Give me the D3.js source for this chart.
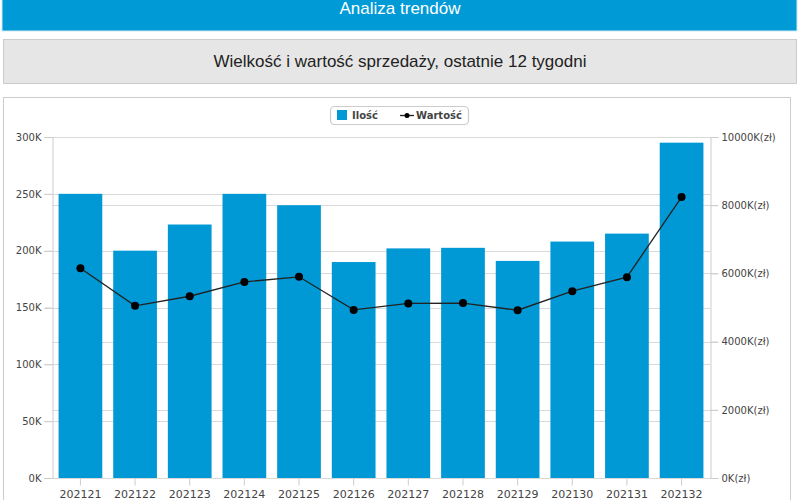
<!DOCTYPE html>
<html><head><meta charset="utf-8">
<script src="https://cdn.jsdelivr.net/npm/d3@7/dist/d3.min.js"></script>
<style>
body{margin:0;background:#fff;font-family:"Liberation Sans",Arial,sans-serif;}
</style></head>
<body><svg id="c" width="800" height="500"></svg>
<script>
const categories = ["202121","202122","202123","202124","202125","202126","202127","202128","202129","202130","202131","202132"];
const quantity = [250000,200000,223000,250000,240000,190000,202000,202500,191000,208000,215000,295000];
const value = [6150000,5050000,5330000,5750000,5900000,4930000,5120000,5130000,4920000,5480000,5890000,8240000];
const leftTicks = [0,50000,100000,150000,200000,250000,300000];
const rightTicks = [0,2000000,4000000,6000000,8000000,10000000];
const titleText = "Analiza trendów";
const subtitleText = "Wielkość i wartość sprzedaży, ostatnie 12 tygodni";
const legendLabels = ["Ilość","Wartość"];

const svg = d3.select("#c");
const blue = "#0099d5";

// header banner
svg.append("rect").attr("x",2).attr("y",-10).attr("width",795).attr("height",41).attr("fill","#009ad6").attr("stroke","#cfe9f5");
svg.append("text").attr("x",400).attr("y",14).attr("text-anchor","middle").attr("fill","#fff")
  .style("font-size","17px").style("font-family","'Liberation Sans',Arial").text(titleText);
// subtitle box
svg.append("rect").attr("x",3.5).attr("y",39.5).attr("width",793).attr("height",44).attr("fill","#e6e6e6").attr("stroke","#cccccc");
svg.append("text").attr("x",400).attr("y",67).attr("text-anchor","middle").attr("fill","#222")
  .style("font-size","17px").text(subtitleText);
// chart panel
svg.append("rect").attr("x",3.5).attr("y",97.5).attr("width",787).attr("height",420).attr("fill","#fff").attr("stroke","#cccccc");

const m = {l:52, r:710, t:137, b:478};
const x = d3.scaleBand().domain(categories).range([m.l, m.r]).paddingInner(0.2).paddingOuter(0.12);
const yL = d3.scaleLinear().domain([0,300000]).range([m.b, m.t]);
const yR = d3.scaleLinear().domain([0,10000000]).range([m.b, m.t]);

// gridlines
const g = svg.append("g");
g.selectAll("line.gl").data(leftTicks).enter().append("line")
  .attr("x1",m.l-8).attr("x2",m.r).attr("y1",d=>Math.round(yL(d))+0.5).attr("y2",d=>Math.round(yL(d))+0.5)
  .attr("stroke","#d9d9d9");
g.selectAll("line.gr").data(rightTicks).enter().append("line")
  .attr("x1",m.l).attr("x2",m.r+8).attr("y1",d=>Math.round(yR(d))+0.5).attr("y2",d=>Math.round(yR(d))+0.5)
  .attr("stroke","#d9d9d9");

// bars
svg.selectAll("rect.bar").data(categories).enter().append("rect")
  .attr("x",d=>x(d)).attr("width",x.bandwidth())
  .attr("y",(d,i)=>yL(quantity[i])).attr("height",(d,i)=>m.b-yL(quantity[i]))
  .attr("fill",blue);

// axes
const fmtL = d=>(d/1000)+"K";
const fmtR = d=>(d/1000)+"K(zł)";
const axL = svg.append("g").attr("transform",`translate(${m.l+0.5},0)`)
  .call(d3.axisLeft(yL).tickValues(leftTicks).tickFormat(fmtL).tickSize(8).tickPadding(3));
const axR = svg.append("g").attr("transform",`translate(${m.r+0.5},0)`)
  .call(d3.axisRight(yR).tickValues(rightTicks).tickFormat(fmtR).tickSize(8).tickPadding(3));
const axB = svg.append("g").attr("transform",`translate(0,${m.b+0.5})`)
  .call(d3.axisBottom(x).tickSize(7).tickPadding(5));
[axL,axR,axB].forEach(a=>{
  a.selectAll("path.domain").attr("stroke","#cccccc");
  a.selectAll(".tick line").attr("stroke","#cccccc");
  a.selectAll("text").attr("fill","#444").style("font-family","'DejaVu Sans',sans-serif").style("font-size","10px");
});
axB.select("path.domain").remove();
axB.selectAll("text").style("font-size","11px");

// line
const cx = d=>x(d)+x.bandwidth()/2;
svg.append("path").datum(categories)
  .attr("d",d3.line().x(d=>cx(d)).y((d,i)=>yR(value[i])))
  .attr("fill","none").attr("stroke","#222").attr("stroke-width",1.3);
svg.selectAll("circle.pt").data(categories).enter().append("circle")
  .attr("cx",d=>cx(d)).attr("cy",(d,i)=>yR(value[i])).attr("r",4).attr("fill","#000");

// legend
const lg = svg.append("g");
lg.append("rect").attr("x",330.5).attr("y",106.5).attr("width",138).attr("height",18).attr("rx",4)
  .attr("fill","#fff").attr("stroke","#cccccc").attr("stroke-width",1.2);
lg.append("rect").attr("x",337).attr("y",110).attr("width",10).attr("height",10).attr("fill",blue);
lg.append("text").attr("x",352).attr("y",119).text(legendLabels[0])
  .attr("fill","#444").style("font-family","'DejaVu Sans',sans-serif").style("font-size","10px").style("font-weight","bold");
lg.append("line").attr("x1",400).attr("x2",414).attr("y1",115.5).attr("y2",115.5).attr("stroke","#222").attr("stroke-width",1.3);
lg.append("circle").attr("cx",407).attr("cy",115.5).attr("r",2.5).attr("fill","#000");
lg.append("text").attr("x",416).attr("y",119).text(legendLabels[1])
  .attr("fill","#444").style("font-family","'DejaVu Sans',sans-serif").style("font-size","10px").style("font-weight","bold");
</script></body></html>
